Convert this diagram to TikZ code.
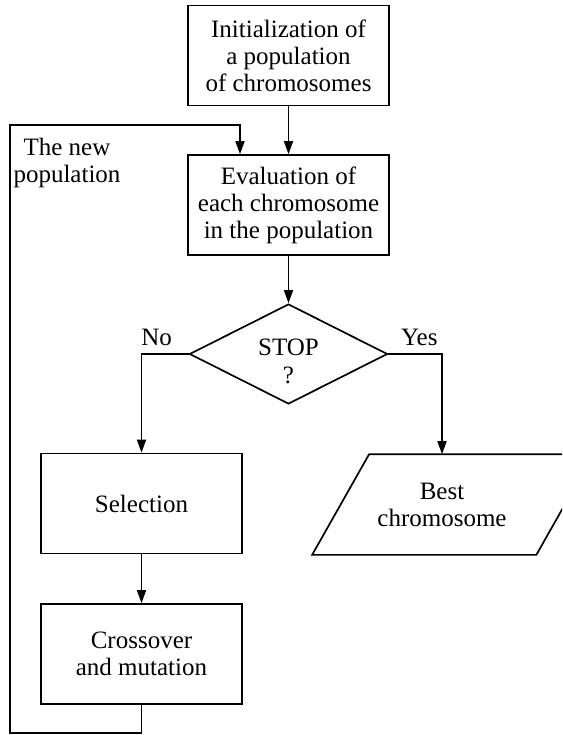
\documentclass[tikz,border=0pt]{standalone}
\usepackage{fontspec}
\setmainfont{Liberation Serif}
\usetikzlibrary{arrows.meta,shapes.geometric}
\begin{document}
\begin{tikzpicture}[x=1pt,y=-1pt,
  font=\fontsize{25}{27}\selectfont,
  line width=1.7pt,
  >={Triangle[length=13pt,width=9pt]},
  flowbox/.style={draw,rectangle,minimum width=201pt,minimum height=100pt,inner sep=0pt,align=center},
  decision/.style={draw,diamond,minimum width=198pt,minimum height=100pt,inner sep=0pt},
  iobox/.style={rectangle,minimum width=201pt,minimum height=99pt,inner sep=0pt,align=center},
  tag/.style={inner sep=0pt,align=center}]
\useasboundingbox (0,0) rectangle (562,735);
\clip (0,0) rectangle (562,735);

% process steps
\node[flowbox] (init)  at (288.5,55.5) {Initialization of\\a population\\of chromosomes};
\node[flowbox] (eval)  at (288.5,205)  {Evaluation of\\each chromosome\\in the population};
\node[decision] (stop) at (288.5,354)  {};
\node[tag] (stoptext) at ([yshift=-7pt]stop.center) {STOP\\[1pt]?};
\node[flowbox] (sel)   at (141.5,503.5) {Selection};
\node[flowbox] (cross) at (141.5,654)  {Crossover\\and mutation};

% output parallelogram
\node[iobox] (best) at (442,504.5) {Best\\chromosome};
\draw ([xshift=-28.5pt]best.south west) -- ([xshift=28.5pt]best.north west)
   -- ([xshift=50pt]best.north east) -- ([xshift=-7pt]best.south east) -- cycle;

% labels
\node[tag] (no)  at ([xshift=-32pt,yshift=17pt]stop.west) {No};
\node[tag] (yes) at ([xshift=31pt,yshift=17pt]stop.east) {Yes};
\node[tag] (newpop) at (67,163) {The new\\population};

% connectors
\coordinate (lb) at (10,733);
\coordinate (lt) at (10,125);
\draw[->] (init) -- (eval);
\draw[->] (eval.south) -- (stop.north);
\draw[->] (stop.west) -| (sel.north);
\draw[->] (stop.east) -| (best.north);
\draw[->] (sel) -- (cross);
\draw[->] (cross.south) |- (lb) -- (lt) -| ([xshift=-48.5pt]eval.north);
\end{tikzpicture}
\end{document}
